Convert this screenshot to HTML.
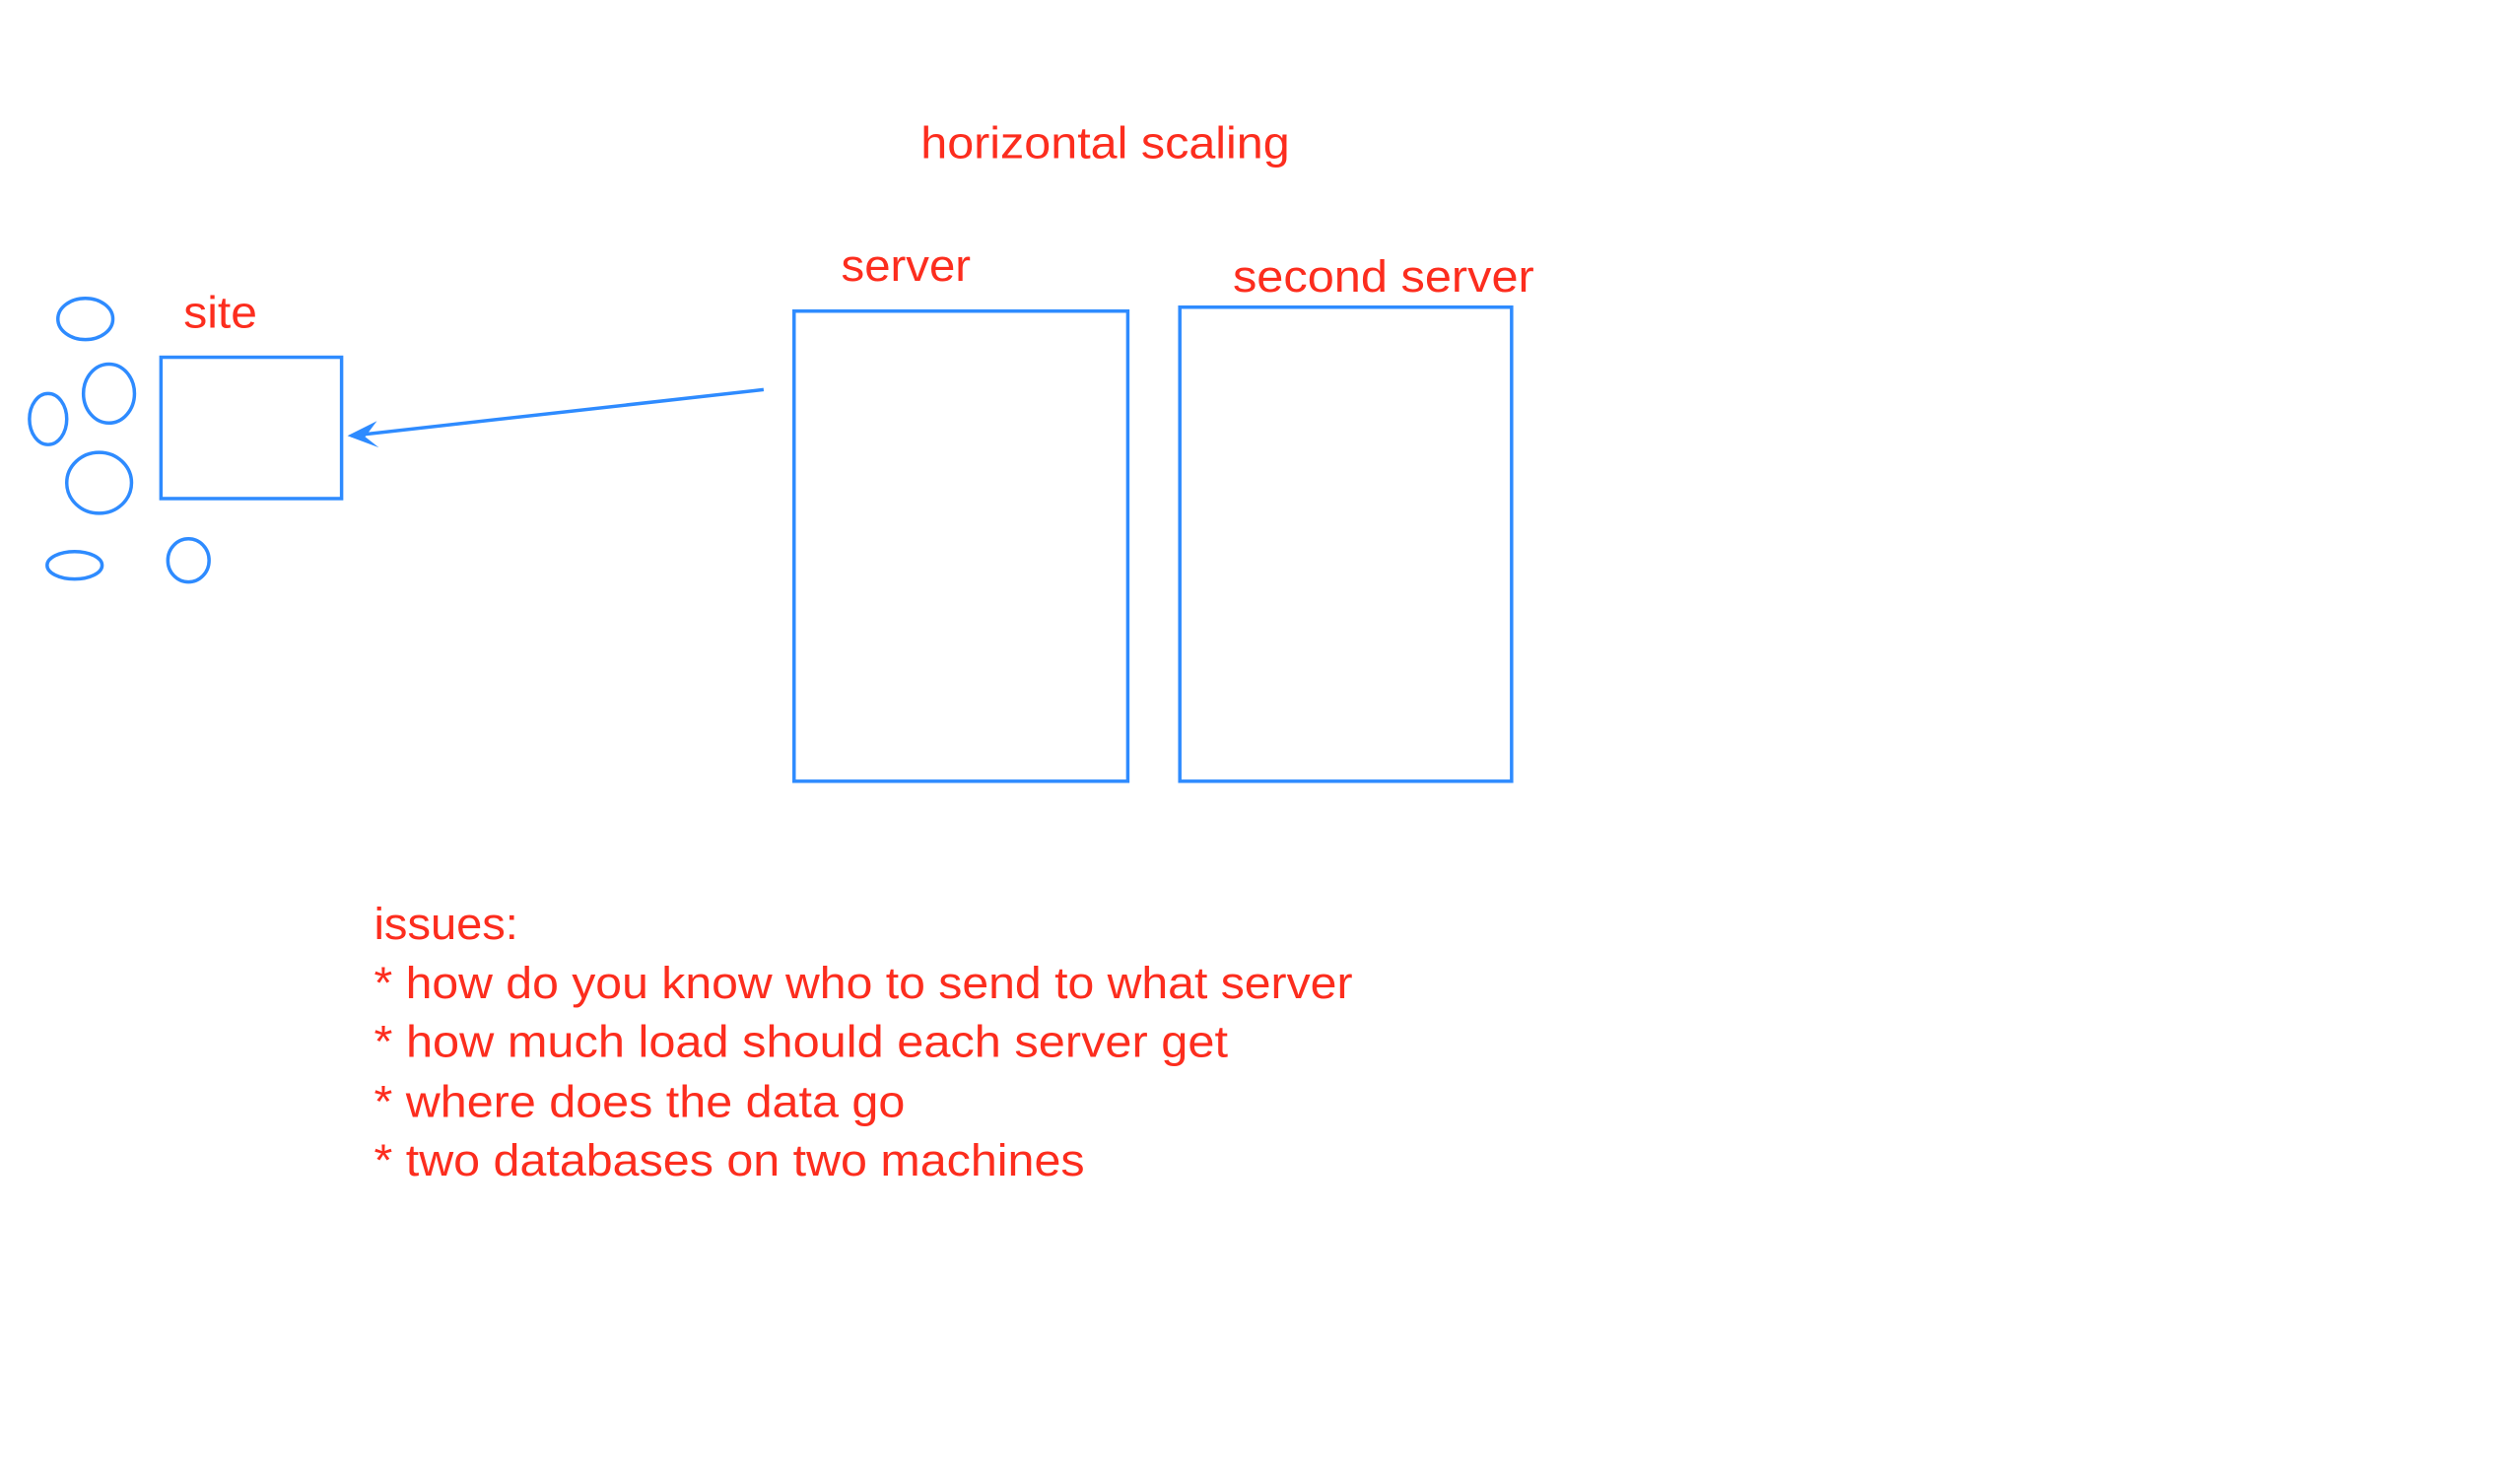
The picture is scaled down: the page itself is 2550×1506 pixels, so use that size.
<!DOCTYPE html>
<html><head><meta charset="utf-8"><style>
html,body{margin:0;padding:0;background:#fff;}
svg{display:block;}
text{font-family:"Liberation Sans",sans-serif;fill:#fc2d1e;font-size:46px;}
</style></head><body>
<svg width="2550" height="1506" viewBox="0 0 2550 1506" xmlns="http://www.w3.org/2000/svg">
<g transform="scale(0.996)">
<g fill="none" stroke="#2e8bff" stroke-width="3.5">
<rect x="809" y="317" width="340" height="479"/>
<rect x="1202" y="313" width="338" height="483"/>
<rect x="164" y="364" width="184" height="144"/>
<ellipse cx="87" cy="325" rx="28" ry="21"/>
<ellipse cx="111" cy="401" rx="26" ry="30"/>
<ellipse cx="49" cy="427" rx="19" ry="26"/>
<ellipse cx="101" cy="492" rx="33" ry="31"/>
<ellipse cx="76" cy="576" rx="28" ry="14"/>
<ellipse cx="192" cy="571" rx="21" ry="22"/>
<line x1="778" y1="397" x2="358" y2="444"/>
</g>
<path d="M354 444 L384 429 L372 445 L386 456 Z" fill="#2e8bff"/>
<text x="938" y="161" textLength="376" lengthAdjust="spacingAndGlyphs">horizontal scaling</text>
<text x="857" y="286" textLength="132" lengthAdjust="spacingAndGlyphs">server</text>
<text x="1256" y="297" textLength="307" lengthAdjust="spacingAndGlyphs">second server</text>
<text x="187" y="334" textLength="75" lengthAdjust="spacingAndGlyphs">site</text>
<text x="381" y="957" textLength="147" lengthAdjust="spacingAndGlyphs">issues:</text>
<text x="381" y="1017" textLength="997" lengthAdjust="spacingAndGlyphs">* how do you know who to send to what server</text>
<text x="381" y="1077" textLength="870" lengthAdjust="spacingAndGlyphs">* how much load should each server get</text>
<text x="381" y="1138" textLength="541" lengthAdjust="spacingAndGlyphs">* where does the data go</text>
<text x="381" y="1198" textLength="724" lengthAdjust="spacingAndGlyphs">* two databases on two machines</text>
</g>
</svg>
</body></html>
